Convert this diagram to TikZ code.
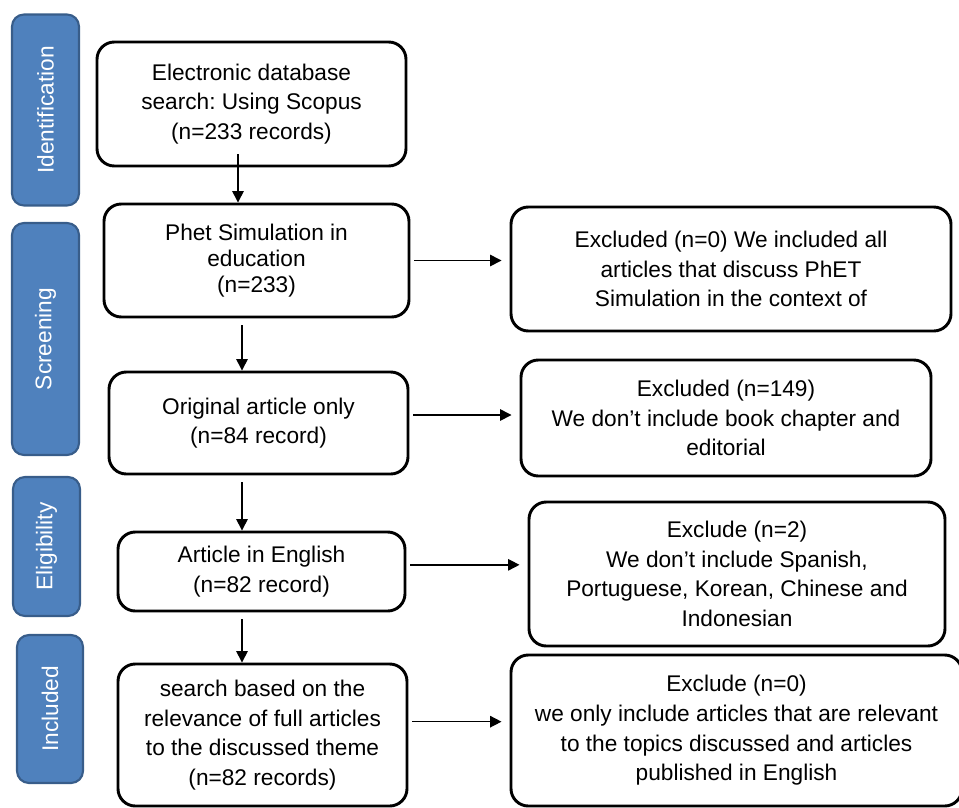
\documentclass[tikz,border=0pt]{standalone}
\usepackage{fontspec}
\setmainfont{Liberation Sans}
\usetikzlibrary{arrows.meta,positioning}
\definecolor{stageblue}{RGB}{79,129,189}
\definecolor{stageline}{RGB}{56,93,138}
\frenchspacing
\tikzset{
  >={Triangle[length=8.5pt,width=8.5pt]},
  sz/.style 2 args={minimum width=#1*0.75pt,minimum height=#2*0.75pt},
  stage/.style={draw=stageline,line width=1.6pt,fill=stageblue,rounded corners=9pt,
    text=white,rotate=90,inner sep=0pt,font=\fontsize{17}{20}\selectfont},
  box/.style={draw=black,line width=2.2pt,rounded corners=13pt,fill=white,
    align=center,inner sep=0pt,font=\fontsize{17}{22.3}\selectfont},
  flow/.style={->,line width=1.1pt,draw=black},
}

\begin{document}
\begin{tikzpicture}[x=0.75pt,y=-0.75pt]
    \useasboundingbox (0,0) rectangle (959,807);
    % stages on the left
    \foreach \n/\t/\x/\y/\h/\w in {ident/Identification/45.5/110/191/67,screen/Screening/45.5/339/232/67,
      elig/Eligibility/46.5/546.5/139/67,incl/Included/50/709/148/66}{
      \node[stage,sz={\h}{\w}] (\n) at (\x,\y) {\t};
    }
    % main column
    \node[box,sz={309}{124}] (search) at (251.5,104) {Electronic database\\search: Using Scopus\\(n=233 records)};
    \node[box,sz={305}{113},font=\fontsize{17}{19.5}\selectfont] (phet) at (256.5,260.5) {Phet Simulation in\\education\\(n=233)};
    \node[box,sz={299}{102}] (orig) at (258.5,423) {Original article only\\(n=84 record)};
    \node[box,sz={287}{79}] (engl) at (261.5,571.5) {Article in English\\(n=82 record)};
    \node[box,sz={289}{142}] (full) at (262.5,735) {search based on the\\relevance of full articles\\to the discussed theme\\(n=82 records)};
    % excluded column
    \node[box,sz={440}{124}] (exphet) at (731,269) {Excluded (n=0) We included all\\articles that discuss PhET\\Simulation in the context of};
    \node[box,sz={410}{116}] (exorig) at (726,418) {Excluded (n=149)\\We don’t include book chapter and\\editorial};
    \node[box,sz={416}{144}] (exengl) at (737,574) {Exclude (n=2)\\We don’t include Spanish,\\Portuguese, Korean, Chinese and\\Indonesian};
    \node[box,sz={451}{151}] (exfull) at (736.5,730.5) {Exclude (n=0)\\we only include articles that are relevant\\to the topics discussed and articles\\published in English};
    % arrows
    \coordinate (spinea) at (238,0);
    \coordinate (spineb) at (242,0);
    \draw[flow] ([yshift=9.75pt]search.south -| spinea) -- (phet.north -| spinea);
    \foreach \a/\b in {phet/orig,orig/engl,engl/full}
      \draw[flow,shorten <=5pt] (\a.south -| spineb) -- (\b.north -| spineb);
    \foreach \a/\b/\s in {phet/exphet/0,orig/exorig/6,engl/exengl/5,full/exfull/10}
      \draw[flow,shorten <=3pt,shorten >=6pt] ([yshift=\s pt]\a.east) -- ([yshift=\s pt]\a.east -| \b.west);
\end{tikzpicture}
\end{document}
